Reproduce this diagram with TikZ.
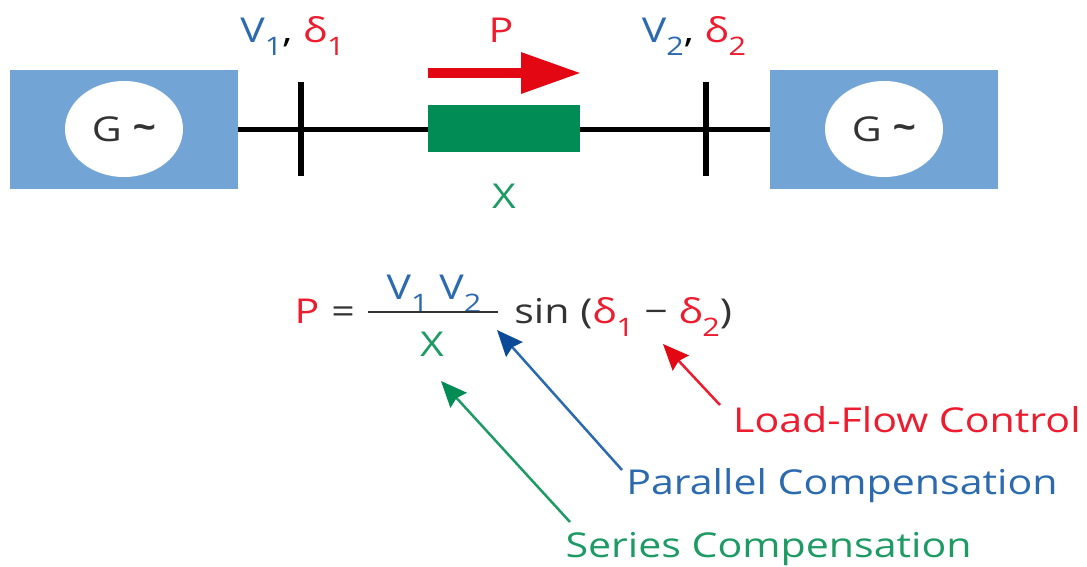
\documentclass[tikz,border=0pt]{standalone}
\usepackage{fontspec}
\setmainfont[FakeStretch=1.2]{Open Sans}
\usetikzlibrary{arrows.meta,shapes.geometric}
\definecolor{genblue}{RGB}{114,164,214}
\definecolor{txtblue}{RGB}{44,106,176}
\definecolor{headblue}{RGB}{10,74,150}
\definecolor{darkgreen}{RGB}{0,140,84}
\definecolor{txtgreen}{RGB}{30,155,100}
\definecolor{txtred}{RGB}{237,28,46}
\definecolor{flowred}{RGB}{227,6,19}
\definecolor{txtgray}{RGB}{51,51,51}
\newcommand{\idx}[1]{\raisebox{-7.4pt}{\fontsize{14.5}{17}\selectfont #1}}

\begin{document}
\begin{tikzpicture}[
  x=0.02cm, y=-0.02cm,
  font=\fontsize{19.5}{23}\selectfont,
  gen/.style={rectangle, fill=genblue, minimum width=4.56cm, minimum height=2.38cm, inner sep=0},
  rotor/.style={ellipse, fill=white, text=txtgray, minimum width=2.36cm, minimum height=1.92cm, inner sep=0},
  bus/.style={rectangle, fill=black, minimum width=0.13cm, minimum height=1.88cm, inner sep=0},
  react/.style={rectangle, fill=darkgreen, minimum width=3.04cm, minimum height=0.94cm, inner sep=0},
  lbl/.style={inner sep=0, anchor=base},
  wire/.style={line width=0.1cm, black},
  arr/.style={-{Stealth[length=0.52cm,width=0.44cm,inset=0.06cm,color=#1]}, line width=0.05cm}
]
\useasboundingbox (0,0) rectangle (1087,566);
\node[gen] (gen1) at (124,129.5) {};
\node[gen] (gen2) at (884,129.5) {};
\node[rotor] (rot1) at (124,129) {G \raisebox{0.05em}{\textbf{\textasciitilde}}};
\node[rotor] (rot2) at (884,129) {G \raisebox{0.05em}{\textbf{\textasciitilde}}};
\node[bus] (bus1) at (301,129) {};
\node[bus] (bus2) at (706,129) {};
\node[react] (xbox) at (504,128.5) {};
\draw[wire] (gen1.east |- bus1.center) -- (bus1.center) -- (xbox.west |- bus1.center);
\draw[wire] (xbox.east |- bus2.center) -- (bus2.center) -- (gen2.west |- bus2.center);
% power flow
\coordinate (pa) at (428,73);
\coordinate (pb) at (581,73);
\draw[-{Triangle[length=1.2cm,width=0.78cm]}, line width=0.19cm, flowred] (pa) -- (pb);
% labels above the line
\node[lbl] (v1) at (292.5,42) {\textcolor{txtblue}{V\idx{1}}, \textcolor{txtred}{δ\idx{1}}};
\node[lbl] (v2) at (694,42) {\textcolor{txtblue}{V\idx{2}}, \textcolor{txtred}{δ\idx{2}}};
\node[lbl,text=txtred] (plbl) at (501,42) {P};
\node[lbl,text=txtgreen] (xlbl) at (504,208) {X};
% equation
\node[lbl,text=txtred] (eqp) at (307,323) {P};
\node[lbl,text=txtgray] (eqeq) at (343,323) {=};
\node[lbl] (eqv) at (434,299) {\textcolor{txtblue}{V\idx{1} V\idx{2}}};
\node[lbl,text=txtgreen] (eqx) at (432,356) {X};
\node[lbl,anchor=base west,text=txtgray] (eqs) at (514,323) {sin (\textcolor{txtred}{δ\idx{1}} − \textcolor{txtred}{δ\idx{2}})};
\coordinate (fa) at (368,312);
\coordinate (fb) at (498,312);
\draw[line width=0.045cm, txtgray] (fa) -- (fb);
% compensation labels
\node[lbl,anchor=base east,text=txtred] (load) at (1081,432) {Load-Flow Control};
\node[lbl,anchor=base east,text=txtblue] (par) at (1058,494) {Parallel Compensation};
\node[lbl,anchor=base east,text=txtgreen] (ser) at (972,557) {Series Compensation};
\coordinate (la) at (720,405);
\coordinate (lb) at (663,344);
\coordinate (pc) at (622,470);
\coordinate (pd) at (497,330);
\coordinate (sa) at (570,522);
\coordinate (sb) at (441,381);
\draw[arr=flowred, txtred] (la) -- (lb);
\draw[arr=headblue, txtblue] (pc) -- (pd);
\draw[arr=darkgreen, txtgreen] (sa) -- (sb);
\end{tikzpicture}
\end{document}
